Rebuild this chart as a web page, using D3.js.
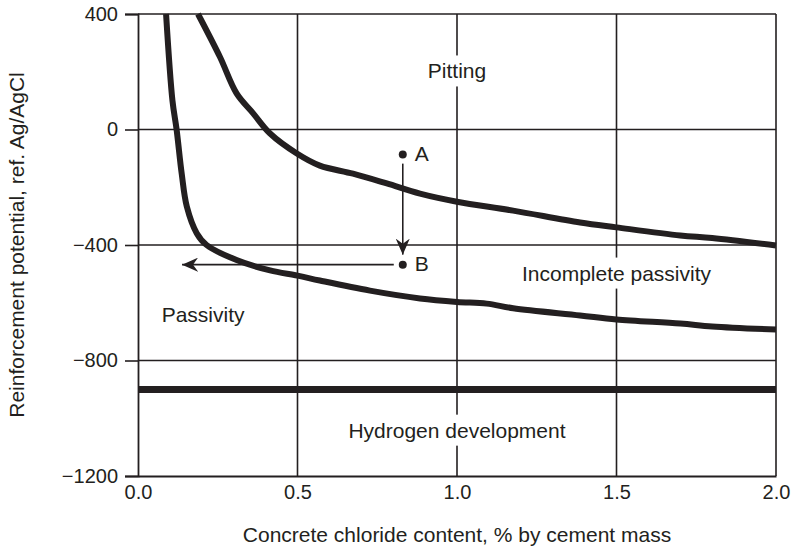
<!DOCTYPE html>
<html>
<head>
<meta charset="utf-8">
<script src="https://cdn.jsdelivr.net/npm/d3@7"></script>
<style>
  body { margin: 0; background: #fff; }
  text { font-family: "Liberation Sans", Arial, sans-serif; fill: #231f20; }
</style>
</head>
<body>
<svg id="chart" width="792" height="548"></svg>
<script>
// pitting boundary
const pitX = [0.188, 0.257, 0.309, 0.361, 0.414, 0.498, 0.57, 0.674, 0.78, 0.884, 1.0, 1.176, 1.386, 1.5, 1.70, 1.80, 2.0];
const pitY = [400, 251, 125, 56, -14, -83, -125, -153, -187, -222, -250, -281, -322, -339, -367, -376, -402];
// passivity boundary
const pasX = [0.088, 0.108, 0.121, 0.137, 0.153, 0.184, 0.215, 0.309, 0.414, 0.5, 0.57, 0.727, 0.884, 1.0, 1.093, 1.176, 1.386, 1.5, 1.70, 1.80, 2.0];
const pasY = [400, 100, 0, -153, -267, -359, -400, -452, -488, -506, -523, -558, -585, -597, -603, -619, -644, -658, -672, -682, -693];
const hydrogenY = -900;
const xTicks = [0, 0.5, 1.0, 1.5, 2.0];
const yTicks = [400, 0, -400, -800, -1200];
const pointA = [0.83, -87], pointB = [0.83, -468];
const regions = [
  {name: 'Pitting', x: 1.0, y: 196},
  {name: 'Incomplete passivity', x: 1.5, y: -504},
  {name: 'Passivity', x: 0.204, y: -649},
  {name: 'Hydrogen development', x: 1.0, y: -1048}
];

const svg = d3.select('#chart');
const margin = {top: 14, right: 16, bottom: 72, left: 138};
const W = 792, H = 548;

const x = d3.scaleLinear().domain([0, 2]).range([margin.left, W - margin.right]);
const y = d3.scaleLinear().domain([-1200, 400]).range([H - margin.bottom, margin.top]);

const ink = '#231f20';
const fs = '21px';

// grid
svg.append('g').selectAll('line.gx')
  .data([0.5, 1.0, 1.5])
  .enter().append('line')
  .attr('x1', d => x(d)).attr('x2', d => x(d))
  .attr('y1', y(400)).attr('y2', y(-1200))
  .attr('stroke', ink).attr('stroke-width', 1.6);
svg.append('g').selectAll('line.gy')
  .data([0, -400, -800])
  .enter().append('line')
  .attr('x1', x(0)).attr('x2', x(2))
  .attr('y1', d => y(d)).attr('y2', d => y(d))
  .attr('stroke', ink).attr('stroke-width', 1.6);

// frame top / right
svg.append('line').attr('x1', x(0)).attr('x2', x(2)).attr('y1', y(400)).attr('y2', y(400))
  .attr('stroke', ink).attr('stroke-width', 1.6);
svg.append('line').attr('x1', x(2)).attr('x2', x(2)).attr('y1', y(400)).attr('y2', y(-1200))
  .attr('stroke', ink).attr('stroke-width', 1.6);

// axes
const xAxis = d3.axisBottom(x).tickValues(xTicks).tickSize(0).tickPadding(9)
  .tickFormat(d3.format('.1f'));
const gx = svg.append('g').attr('transform', `translate(0, ${y(-1200)})`).call(xAxis);
gx.select('.domain').attr('stroke', ink).attr('stroke-width', 1.8);
gx.selectAll('text').style('font-size', '20px').attr('fill', ink);

const yAxis = d3.axisLeft(y).tickValues(yTicks).tickSize(13).tickPadding(7)
  .tickFormat(d => d < 0 ? '\u2212' + Math.abs(d) : d);
const gy = svg.append('g').attr('transform', `translate(${x(0)}, 0)`).call(yAxis);
gy.select('.domain').attr('stroke', ink).attr('stroke-width', 1.8);
gy.selectAll('.tick line').attr('stroke', ink).attr('stroke-width', 1.6);
gy.selectAll('text').style('font-size', '20px').attr('fill', ink);

// region labels with white knockout
regions.forEach(r => {
  const t = svg.append('text')
    .attr('x', x(r.x)).attr('y', y(r.y))
    .attr('text-anchor', 'middle')
    .attr('dominant-baseline', 'middle')
    .style('font-size', fs)
    .text(r.name);
  const bb = t.node().getBBox();
  svg.insert('rect', () => t.node())
    .attr('x', bb.x - 3).attr('y', bb.y - 4)
    .attr('width', bb.width + 6).attr('height', bb.height + 8)
    .attr('fill', '#fff');
});

// hydrogen line
svg.append('line')
  .attr('x1', x(0)).attr('x2', x(2))
  .attr('y1', y(hydrogenY)).attr('y2', y(hydrogenY))
  .attr('stroke', ink).attr('stroke-width', 7);

const line = d3.line().x(d => x(d[0])).y(d => y(d[1])).curve(d3.curveCatmullRom.alpha(0.5));
svg.append('path').datum(d3.zip(pitX, pitY))
  .attr('d', line).attr('fill', 'none').attr('stroke', ink).attr('stroke-width', 6);
svg.append('path').datum(d3.zip(pasX, pasY))
  .attr('d', line).attr('fill', 'none').attr('stroke', ink).attr('stroke-width', 6);

// arrows
svg.append('defs').append('marker')
  .attr('id', 'arrow').attr('viewBox', '0 0 16 14')
  .attr('refX', 16).attr('refY', 7)
  .attr('markerWidth', 16).attr('markerHeight', 14)
  .attr('markerUnits', 'userSpaceOnUse')
  .attr('orient', 'auto')
  .append('path').attr('d', 'M0,0 L16,7 L0,14 L5,7 Z').attr('fill', ink);

svg.append('line')
  .attr('x1', x(pointA[0])).attr('x2', x(pointA[0]))
  .attr('y1', y(pointA[1]) + 9).attr('y2', y(pointB[1]) - 10)
  .attr('stroke', ink).attr('stroke-width', 1.6)
  .attr('marker-end', 'url(#arrow)');
svg.append('line')
  .attr('x1', x(pointB[0]) - 9).attr('x2', x(0.138))
  .attr('y1', y(pointB[1])).attr('y2', y(pointB[1]))
  .attr('stroke', ink).attr('stroke-width', 1.6)
  .attr('marker-end', 'url(#arrow)');

[[pointA, 'A'], [pointB, 'B']].forEach(([p, lab]) => {
  svg.append('circle').attr('cx', x(p[0])).attr('cy', y(p[1])).attr('r', 4).attr('fill', ink);
  svg.append('text').attr('x', x(p[0]) + 12).attr('y', y(p[1]) + 1)
    .attr('dominant-baseline', 'middle').style('font-size', fs).text(lab);
});

// axis titles
svg.append('text')
  .attr('x', x(1)).attr('y', 542)
  .attr('text-anchor', 'middle')
  .style('font-size', fs)
  .text('Concrete chloride content, % by cement mass');
svg.append('text')
  .attr('transform', `translate(24, ${y(-400)}) rotate(-90)`)
  .attr('text-anchor', 'middle')
  .style('font-size', fs)
  .text('Reinforcement potential, ref. Ag/AgCl');
</script>
</body>
</html>
